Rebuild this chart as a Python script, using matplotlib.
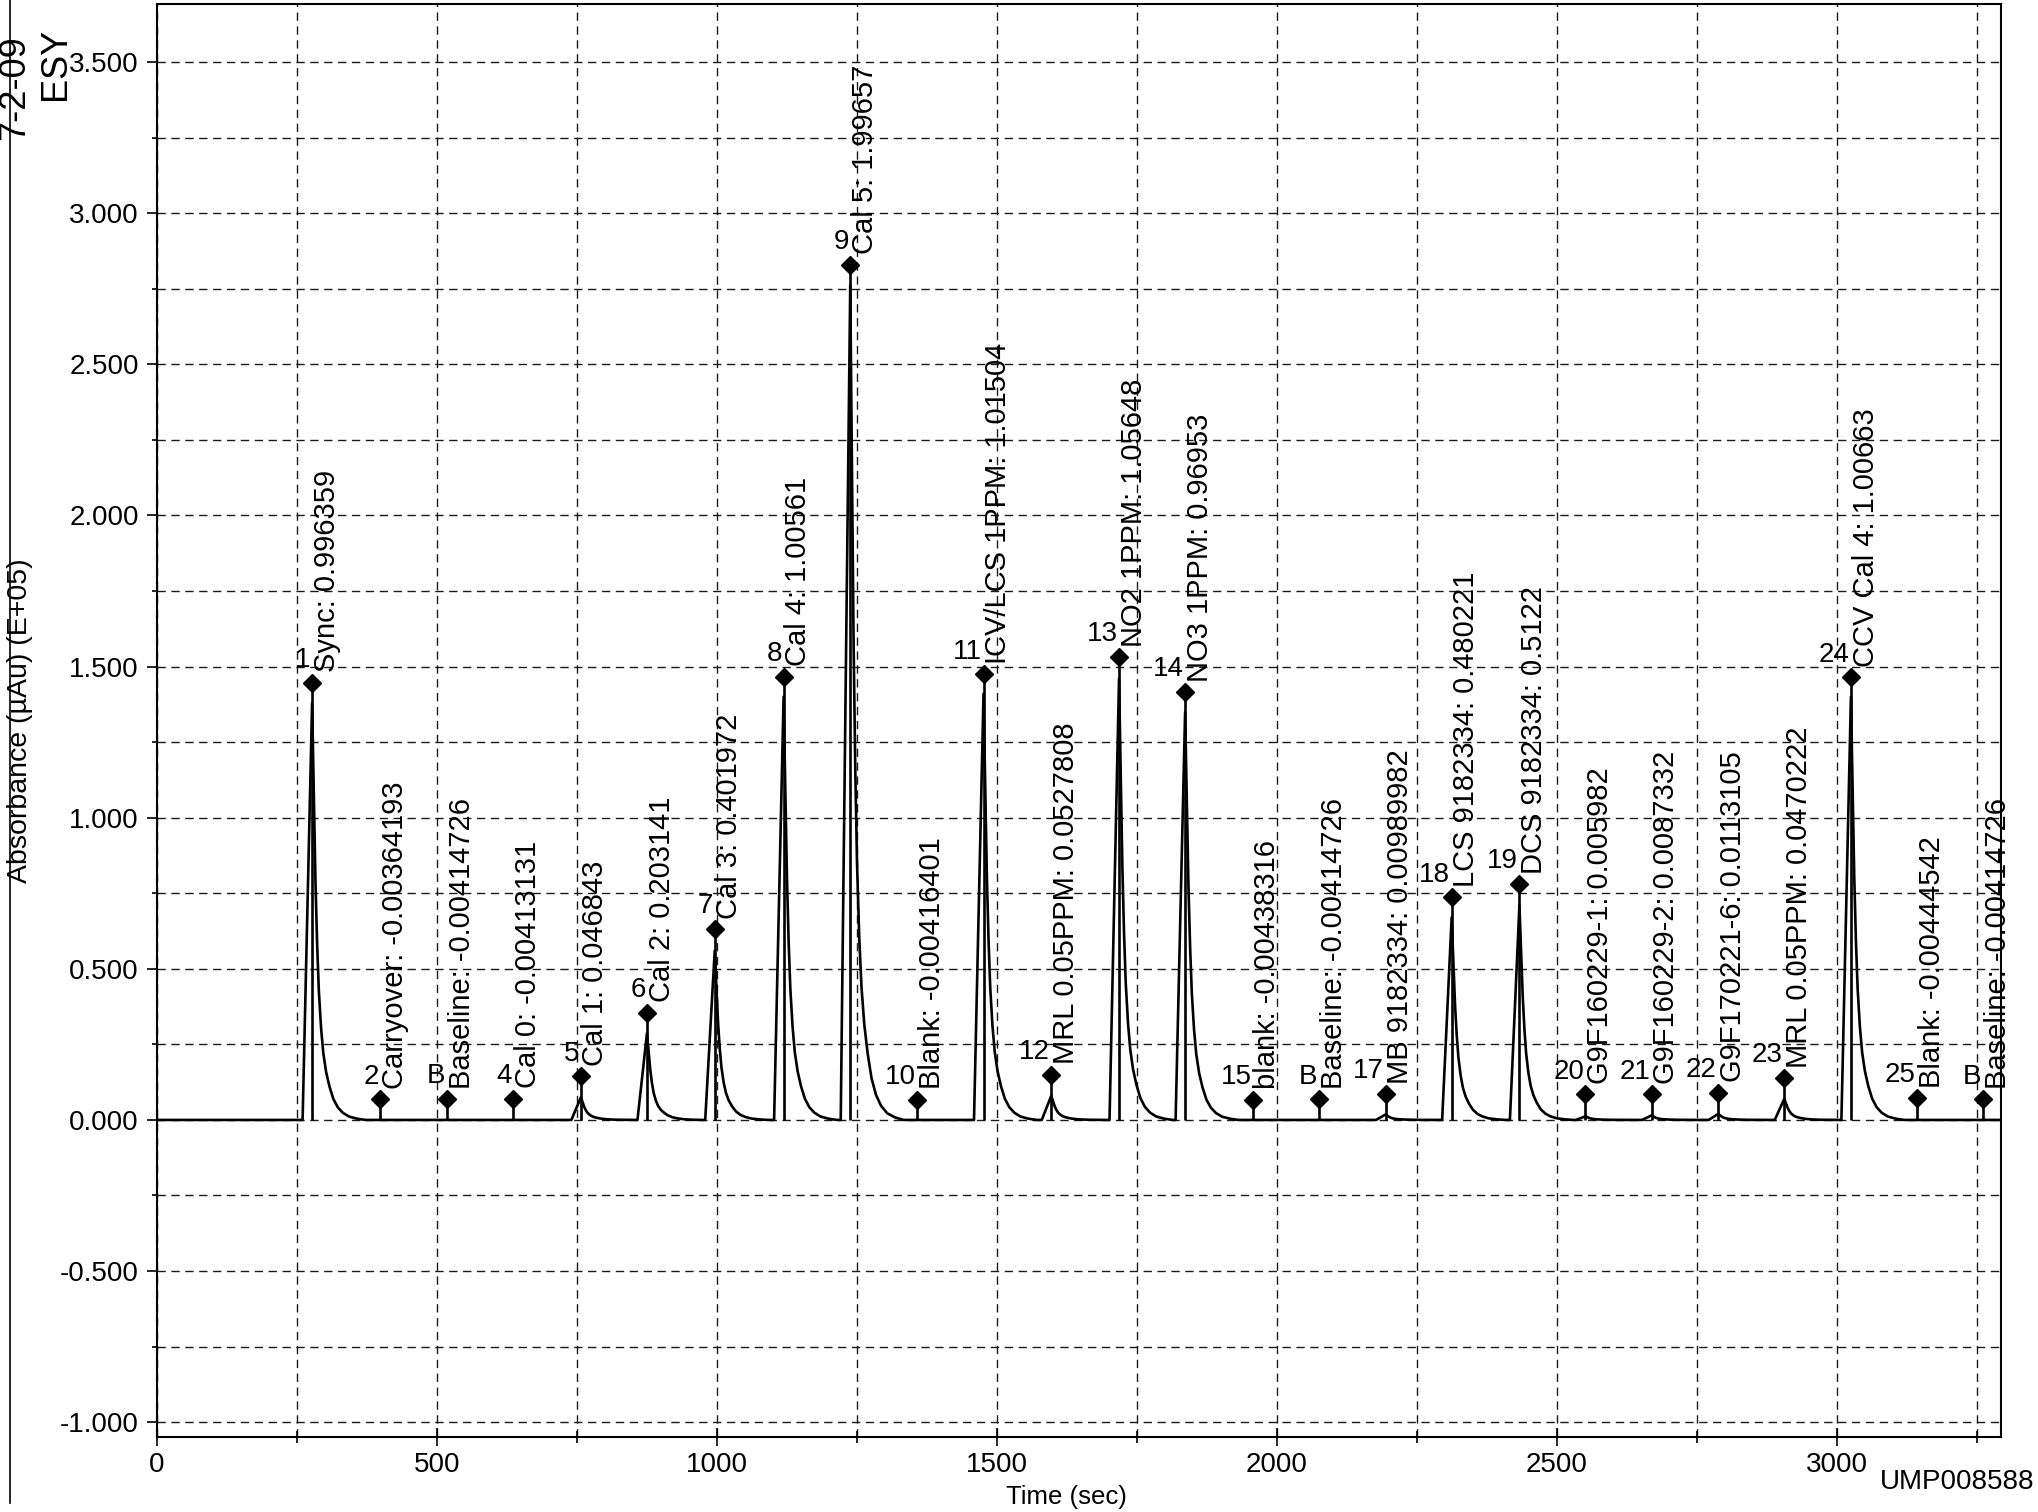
import numpy as np
import matplotlib
matplotlib.use("Agg")
import matplotlib.pyplot as plt
from matplotlib.ticker import FixedLocator, FixedFormatter
from matplotlib.lines import Line2D

plt.rcParams['font.family'] = ['Liberation Sans', 'DejaVu Sans']

# ---------------- data ----------------
peak_ids = ['1', '2', 'B', '4', '5', '6', '7', '8', '9', '10', '11', '12', '13',
            '14', '15', 'B', '17', '18', '19', '20', '21', '22', '23', '24', '25', 'B']
peak_times = [277, 399, 518, 636, 757, 875, 996, 1119, 1238, 1358, 1476, 1597, 1718,
              1836, 1957, 2075, 2194, 2312, 2433, 2551, 2669, 2788, 2906, 3025, 3143, 3261]
peak_heights = [1.38, 0, 0, 0, 0.075, 0.287, 0.56, 1.40, 2.76, 0, 1.41, 0.08, 1.46,
                1.35, 0, 0, 0.018, 0.67, 0.71, 0.012, 0.015, 0.02, 0.07, 1.40, 0, 0]
marker_heights = [1.446, 0.068, 0.069, 0.070, 0.144, 0.355, 0.631, 1.466, 2.83, 0.067,
                  1.474, 0.150, 1.531, 1.416, 0.067, 0.068, 0.086, 0.736, 0.780, 0.085,
                  0.085, 0.090, 0.139, 1.464, 0.072, 0.068]
peak_labels = ['Sync: 0.996359', 'Carryover: -0.00364193', 'Baseline: -0.00414726',
               'Cal 0: -0.00413131', 'Cal 1: 0.046843', 'Cal 2: 0.203141',
               'Cal 3: 0.401972', 'Cal 4: 1.00561', 'Cal 5: 1.99657',
               'Blank: -0.00416401', 'ICV/LCS 1PPM: 1.01504', 'MRL 0.05PPM: 0.0527808',
               'NO2 1PPM: 1.05648', 'NO3 1PPM: 0.96953', 'blank: -0.00438316',
               'Baseline: -0.00414726', 'MB 9182334: 0.00989982', 'LCS 9182334: 0.480221',
               'DCS 9182334: 0.5122', 'G9F160229-1: 0.005982', 'G9F160229-2: 0.0087332',
               'G9F170221-6: 0.0113105', 'MRL 0.05PPM: 0.0470222', 'CCV Cal 4: 1.00663',
               'Blank: -0.00444542', 'Baseline: -0.00414726']

# normalised peak profile (seconds from apex, relative height)
profile_dt = [-17, 0, 3, 6, 9, 12, 16, 20, 25, 31, 38, 46, 55, 66, 80, 95]
profile_rel = [0, 1, 0.78, 0.57, 0.42, 0.31, 0.22, 0.16, 0.115, 0.08, 0.05, 0.03,
               0.017, 0.008, 0.003, 0]

x_limits = (0, 3293)
y_limits = (-1.049, 3.692)
xtick_values = [0, 500, 1000, 1500, 2000, 2500, 3000]
xtick_labels = ['0', '500', '1000', '1500', '2000', '2500', '3000']
xminor_values = [250, 750, 1250, 1750, 2250, 2750, 3250]
ytick_values = [-1.0, -0.5, 0.0, 0.5, 1.0, 1.5, 2.0, 2.5, 3.0, 3.5]
ytick_labels = ['-1.000', '-0.500', '0.000', '0.500', '1.000', '1.500', '2.000',
                '2.500', '3.000', '3.500']
yminor_values = [-0.75, -0.25, 0.25, 0.75, 1.25, 1.75, 2.25, 2.75, 3.25]

# ---------------- figure ----------------
W, H = 2038, 1512
fig = plt.figure(figsize=(W / 100, H / 100), dpi=100)
ax = fig.add_axes([157 / W, 1 - 1437 / H, 1844 / W, 1433 / H])
ax.set_xlim(*x_limits)
ax.set_ylim(*y_limits)

# grid
grid_kw = dict(color='#1a1a1a', lw=1.0, linestyle=(0, (6, 4)), zorder=0)
ax.xaxis.set_major_locator(FixedLocator(xtick_values))
ax.xaxis.set_major_formatter(FixedFormatter(xtick_labels))
ax.xaxis.set_minor_locator(FixedLocator(xminor_values))
ax.yaxis.set_major_locator(FixedLocator(ytick_values))
ax.yaxis.set_major_formatter(FixedFormatter(ytick_labels))
ax.yaxis.set_minor_locator(FixedLocator(yminor_values))
ax.grid(True, which='both', **grid_kw)

ax.tick_params(axis='y', which='major', direction='out', length=7, width=1.2,
               labelsize=20, pad=6)
ax.tick_params(axis='y', which='minor', direction='out', length=3.6, width=1.2)
ax.tick_params(axis='x', which='major', direction='inout', length=13, width=1.2,
               labelsize=20, pad=4)
ax.tick_params(axis='x', which='minor', direction='inout', length=9, width=1.2)
for s in ax.spines.values():
    s.set_linewidth(1.5)
    s.set_color('black')

# trace
xs = [x_limits[0]]
ys = [0.0]
for t, h in zip(peak_times, peak_heights):
    if h > 0:
        xs.extend(t + np.asarray(profile_dt, dtype=float))
        ys.extend(h * np.asarray(profile_rel, dtype=float))
xs.append(x_limits[1])
ys.append(0.0)
ax.plot(xs, ys, color='black', lw=1.9, zorder=3, solid_joinstyle='round')

# stems and diamonds
ax.vlines(peak_times, 0, marker_heights, color='black', lw=1.9, zorder=4)
ax.plot(peak_times, marker_heights, linestyle='none', marker='D', ms=9,
        color='black', zorder=5)

for pid, t, mh, lab in zip(peak_ids, peak_times, marker_heights, peak_labels):
    ax.annotate(pid, (t, mh), xytext=(-1, 7), textcoords='offset points',
                ha='right', va='bottom', fontsize=20, zorder=6)
    ax.annotate(lab, (t, mh), xytext=(10.5, 7.5), textcoords='offset points',
                ha='center', va='bottom', rotation=90, fontsize=21, zorder=6)

# axis labels
fig.text(20 / W, 1 - 721 / H, 'Absorbance (µAu) (E+05)', rotation=90,
         ha='center', va='center', fontsize=20.5)
fig.text(1066 / W, 1 - 1497 / H, 'Time (sec)', ha='center', va='center', fontsize=18.5)
fig.text(2034 / W, 1 - 1482 / H, 'UMP008588', ha='right', va='center', fontsize=20)

# page edge and handwritten note
fig.add_artist(Line2D([10 / W, 10 / W], [1 - 1503 / H, 1.0], color='black', lw=1.2))
fig.text(15 / W, 1 - 88 / H, '7-2-09', rotation=90, ha='center', va='center',
         fontsize=26)
fig.text(55 / W, 1 - 64 / H, 'ESY', rotation=90, ha='center', va='center',
         fontsize=26)

fig.savefig('out.png', dpi=100)
